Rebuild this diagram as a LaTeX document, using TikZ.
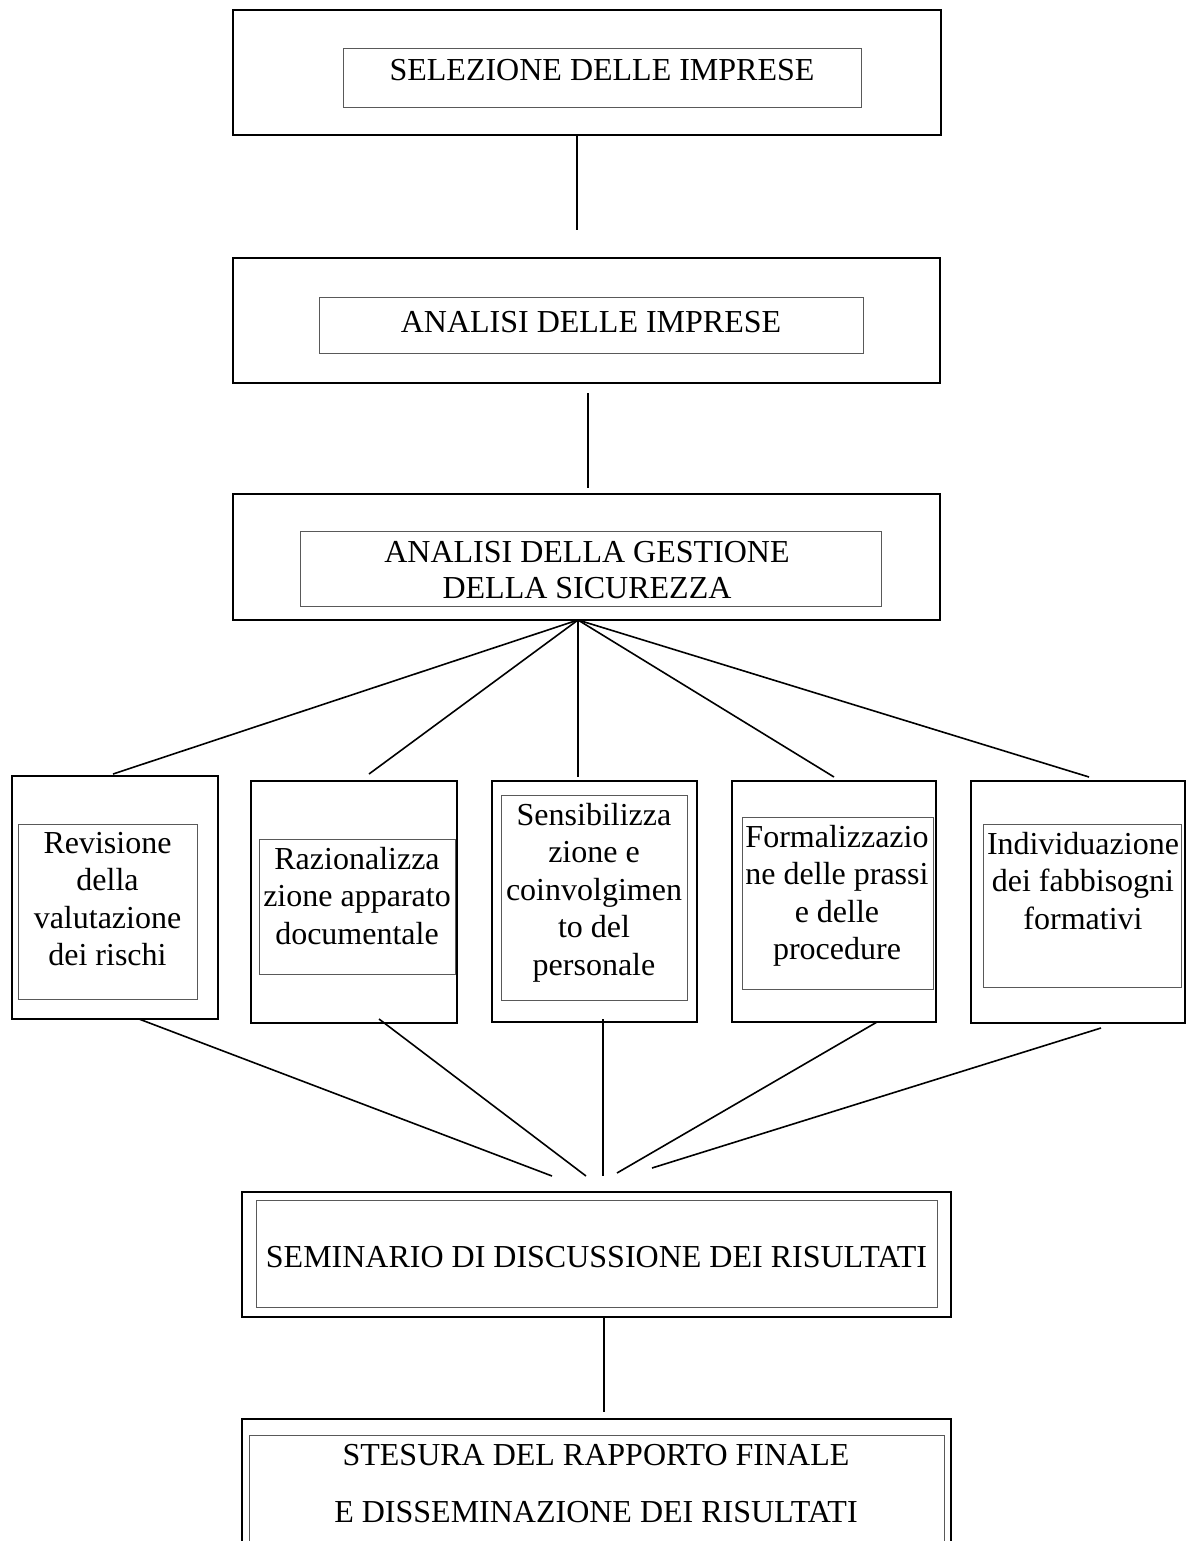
\documentclass[tikz,border=0pt]{standalone}
\usepackage{fontspec}
\setmainfont{Liberation Serif}
\begin{document}
\begin{tikzpicture}[x=1pt,y=-1pt,
  outbox/.style={draw, line width=2pt, inner sep=0pt},
  inbox/.style={draw=black!65, line width=1pt, inner sep=0pt},
  boxtext/.style={inner sep=0pt, anchor=base, align=center, font=\fontsize{32}{37.5}\selectfont},
  link/.style={line width=1.6pt}]
\useasboundingbox (0,0) rectangle (1194,1541);
\clip (0,0) rectangle (1194,1541);
\node[outbox, minimum width=708pt, minimum height=125pt] (sel) at (587,72.5){};
\node[inbox, minimum width=518pt, minimum height=59pt] (selin) at (602,78.5){};
\node[boxtext] (seltxt) at (602,81){SELEZIONE DELLE IMPRESE};
\node[outbox, minimum width=707pt, minimum height=125pt] (ana) at (586.5,320.5){};
\node[inbox, minimum width=544pt, minimum height=56pt] (anain) at (591,325){};
\node[boxtext] (anatxt) at (591,332){ANALISI DELLE IMPRESE};
\node[outbox, minimum width=707pt, minimum height=126pt] (ges) at (586.5,556.5){};
\node[inbox, minimum width=581pt, minimum height=75pt] (gesin) at (590.5,568.5){};
\node[boxtext, font=\fontsize{32}{36}\selectfont] (gestxt) at (587,598){ANALISI DELLA GESTIONE\\DELLA SICUREZZA};
\node[outbox, minimum width=206pt, minimum height=243pt] (rev) at (115,897.5){};
\node[inbox, minimum width=179pt, minimum height=175pt] (revin) at (107.5,911.5){};
\node[boxtext] (revtxt) at (107.5,965.5){Revisione\\della\\valutazione\\dei rischi};
\node[outbox, minimum width=206pt, minimum height=242pt] (raz) at (354,902){};
\node[inbox, minimum width=196pt, minimum height=135pt] (razin) at (357,906.5){};
\node[boxtext] (raztxt) at (357,944){Razionalizza\\zione apparato\\documentale};
\node[outbox, minimum width=205pt, minimum height=241pt] (sen) at (594.5,901.5){};
\node[inbox, minimum width=186pt, minimum height=205pt] (senin) at (594,897.5){};
\node[boxtext] (sentxt) at (594,975){Sensibilizza\\zione e\\coinvolgimen\\to del\\personale};
\node[outbox, minimum width=204pt, minimum height=241pt] (frm) at (834,901.5){};
\node[inbox, minimum width=191pt, minimum height=172pt] (frmin) at (837.5,903){};
\node[boxtext] (frmtxt) at (837,959.5){Formalizzazio\\ne delle prassi\\e delle\\procedure};
\node[outbox, minimum width=214pt, minimum height=242pt] (ind) at (1078,902){};
\node[inbox, minimum width=198pt, minimum height=163pt] (indin) at (1082,905.5){};
\node[boxtext] (indtxt) at (1083,929){Individuazione\\dei fabbisogni\\formativi};
\node[outbox, minimum width=709pt, minimum height=125pt] (sem) at (596.5,1254.5){};
\node[inbox, minimum width=681pt, minimum height=107pt] (semin) at (596.5,1253.5){};
\node[boxtext] (semtxt) at (596.5,1267){SEMINARIO DI DISCUSSIONE DEI RISULTATI};
\node[outbox, minimum width=709pt, minimum height=200pt] (ste) at (596.5,1519){};
\node[inbox, minimum width=695pt, minimum height=200pt] (stein) at (596.5,1535){};
\node[boxtext, font=\fontsize{32}{57}\selectfont] (stetxt) at (596,1522){STESURA DEL RAPPORTO FINALE\\E DISSEMINAZIONE DEI RISULTATI};
\coordinate (e1) at (577,230);
\coordinate (e2a) at (588,393);
\coordinate (e2b) at (588,488);
\coordinate (apex) at (578,620);
\coordinate (f1) at (113,774);
\coordinate (f2) at (369,774);
\coordinate (f3) at (578,777);
\coordinate (f4) at (834,777);
\coordinate (f5) at (1089,777);
\coordinate (b1) at (139,1019);
\coordinate (b2) at (379,1019);
\coordinate (b3) at (603,1019);
\coordinate (b4) at (877,1022);
\coordinate (b5) at (1101,1028);
\coordinate (g1) at (552,1176);
\coordinate (g2) at (586,1176);
\coordinate (g3) at (603,1176);
\coordinate (g4) at (617,1173);
\coordinate (g5) at (652,1168);
\coordinate (e3) at (604,1412);
\draw[link](e1 |- sel.south) -- (e1);
\draw[link](e2a) -- (e2b);
\draw[link](apex) -- (f1);
\draw[link](apex) -- (f2);
\draw[link](apex) -- (f3);
\draw[link](apex) -- (f4);
\draw[link](apex) -- (f5);
\draw[link](b1) -- (g1);
\draw[link](b2) -- (g2);
\draw[link](b3) -- (g3);
\draw[link](b4) -- (g4);
\draw[link](b5) -- (g5);
\draw[link](e3 |- sem.south) -- (e3);
\end{tikzpicture}
\end{document}
